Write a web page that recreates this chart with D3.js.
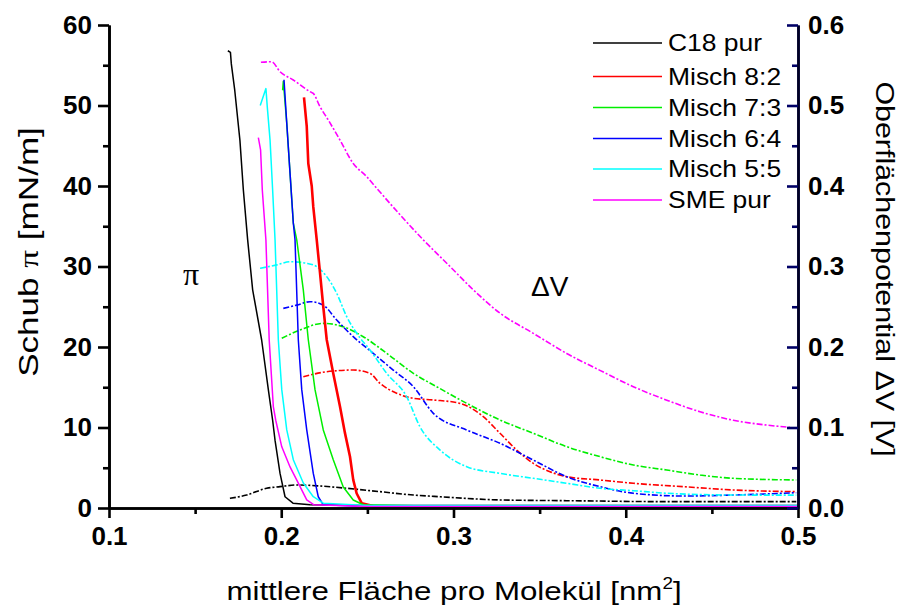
<!DOCTYPE html>
<html><head><meta charset="utf-8">
<script src="https://cdn.jsdelivr.net/npm/d3@7"></script>
<style>
html,body{margin:0;padding:0;background:#fff;}
svg{display:block;font-family:"Liberation Sans",Arial,sans-serif;}
</style></head>
<body><svg id="c" width="904" height="610"></svg>
<script>
// ---------- DATA ----------
const seriesNames = ["C18 pur","Misch 8:2","Misch 7:3","Misch 6:4","Misch 5:5","SME pur"];
const seriesColors = ["#000000","#ff0000","#00ee00","#0000ff","#00ffff","#ff00ff"];
const xTicks = [0.1,0.2,0.3,0.4,0.5];
const yLeftTicks = [0,10,20,30,40,50,60];
const yRightTicks = [0,0.1,0.2,0.3,0.4,0.5,0.6];

// isotherms: [area nm2, pi mN/m]
const piC18 = [[0.169,56.8],[0.1705,56.6],[0.171,55.2],[0.173,51.9],[0.176,45.7],[0.178,39.5],[0.1805,33.3],[0.1834,27.1],[0.1886,20.9],[0.1925,14.7],[0.195,10.9],[0.1964,8.4],[0.1993,4.3],[0.2022,1.4],[0.2068,0.6],[0.2167,0.4],[0.25,0.3],[0.3,0.3],[0.35,0.3],[0.4,0.3],[0.45,0.3],[0.5,0.3]];
const piM82 = [[0.2132,51],[0.2148,47.4],[0.2157,42.8],[0.2177,40],[0.2186,37.4],[0.2206,33.3],[0.2225,29.2],[0.2244,25],[0.2264,20.9],[0.2302,16.7],[0.2341,12.6],[0.237,9.3],[0.2399,6.4],[0.2418,3.5],[0.2438,1.8],[0.2467,0.6],[0.2534,0.25],[0.3,0.2],[0.5,0.2]];
const piM73 = [[0.2008,51.9],[0.2012,53],[0.2032,47.8],[0.2051,41.6],[0.207,35.4],[0.209,33.3],[0.2128,27.1],[0.2157,20.9],[0.2196,14.7],[0.2244,9.7],[0.2302,6.0],[0.236,2.6],[0.2418,1.0],[0.2476,0.4],[0.3,0.2],[0.5,0.2]];
const piM64 = [[0.2016,53.2],[0.2032,47.8],[0.2051,41.6],[0.207,35.4],[0.208,33.3],[0.2099,20.9],[0.2119,14.7],[0.2148,9.7],[0.2186,4.3],[0.2215,1.4],[0.2244,0.4],[0.25,0.2],[0.5,0.2]];
const piM55 = [[0.1878,50],[0.1911,52.1],[0.1919,49.8],[0.1935,45.7],[0.195,39.5],[0.1964,33.3],[0.1983,20.9],[0.2003,14.7],[0.2032,9.7],[0.207,6.0],[0.2128,3.1],[0.2186,1.4],[0.2244,0.6],[0.25,0.3],[0.5,0.3]];
const piSME = [[0.1867,46],[0.188,44.5],[0.189,39.5],[0.1911,33.3],[0.193,20.9],[0.1954,12.6],[0.1968,10.9],[0.2003,7.6],[0.2051,5.1],[0.2099,3.1],[0.2148,1.0],[0.219,0.4],[0.25,0.2],[0.5,0.2]];

// surface potential: [area nm2, dV V]
const dvC18 = [[0.1702,0.012],[0.1799,0.0161],[0.1915,0.0245],[0.1993,0.0265],[0.209,0.0286],[0.2225,0.0273],[0.238,0.0245],[0.2573,0.0203],[0.2767,0.0161],[0.2922,0.014],[0.327,0.010],[0.3657,0.0091],[0.4238,0.0079],[0.499,0.0079]];
const dvM82 = [[0.2128,0.1631],[0.2264,0.1693],[0.2418,0.1714],[0.2515,0.1673],[0.2573,0.1549],[0.267,0.1425],[0.2767,0.1363],[0.2883,0.1342],[0.3038,0.130],[0.3173,0.1134],[0.327,0.0928],[0.3367,0.072],[0.3463,0.0555],[0.356,0.0451],[0.3657,0.0389],[0.385,0.0348],[0.4044,0.0307],[0.4334,0.0265],[0.4624,0.0224],[0.499,0.0203]];
const dvM73 = [[0.2003,0.2108],[0.2109,0.2211],[0.2244,0.2294],[0.236,0.2252],[0.2476,0.2128],[0.2612,0.1922],[0.2767,0.1673],[0.2902,0.1507],[0.3077,0.130],[0.327,0.1093],[0.3463,0.0928],[0.3657,0.0762],[0.385,0.0638],[0.4044,0.0534],[0.4238,0.0472],[0.4431,0.041],[0.4624,0.0369],[0.499,0.0348]];
const dvM64 = [[0.2012,0.248],[0.209,0.252],[0.2167,0.2563],[0.2244,0.252],[0.2322,0.2335],[0.2418,0.2128],[0.2534,0.1922],[0.265,0.1714],[0.2767,0.1507],[0.2883,0.1176],[0.3077,0.0969],[0.327,0.0804],[0.3463,0.0596],[0.3657,0.0389],[0.385,0.0265],[0.4044,0.0183],[0.4334,0.0149],[0.4624,0.0161],[0.499,0.019]];
const dvM55 = [[0.1877,0.2978],[0.1974,0.302],[0.2051,0.306],[0.2148,0.304],[0.2206,0.2998],[0.2264,0.2874],[0.2322,0.2667],[0.238,0.2377],[0.2438,0.217],[0.2515,0.1963],[0.2612,0.1673],[0.2728,0.1383],[0.2805,0.101],[0.2922,0.072],[0.3077,0.0513],[0.327,0.043],[0.3463,0.0369],[0.3657,0.0307],[0.385,0.0245],[0.4044,0.0215],[0.4238,0.0183],[0.4624,0.0161],[0.499,0.016]];
const dvSME = [[0.1882,0.5537],[0.1944,0.5544],[0.1993,0.542],[0.207,0.5317],[0.2167,0.5172],[0.2186,0.515],[0.2225,0.4985],[0.2273,0.482],[0.2341,0.457],[0.2418,0.428],[0.2496,0.4116],[0.2563,0.395],[0.2825,0.333],[0.298,0.300],[0.3115,0.271],[0.327,0.242],[0.3463,0.217],[0.3657,0.192],[0.385,0.171],[0.4044,0.1507],[0.4238,0.134],[0.4431,0.1196],[0.4624,0.109],[0.4818,0.103],[0.4953,0.1002]];

const piSeries = [piC18,piM82,piM73,piM64,piM55,piSME];
const dvSeries = [dvC18,dvM82,dvM73,dvM64,dvM55,dvSME];

// ---------- LAYOUT ----------
const L=109,R=798,T=25,B=508;
const svg = d3.select("#c");
const x = d3.scaleLinear().domain([0.1,0.5]).range([L,R]);
const yL = d3.scaleLinear().domain([0,60]).range([B,T]);
const yR = d3.scaleLinear().domain([0,0.6]).range([B,T]);

svg.append("defs").append("clipPath").attr("id","clip")
  .append("rect").attr("x",L).attr("y",T-5).attr("width",R-L).attr("height",B-T+5);

const plot = svg.append("g").attr("clip-path","url(#clip)");
const linePi = d3.line().x(d=>x(d[0])).y(d=>yL(d[1]));
const lineDv = d3.line().x(d=>x(d[0])).y(d=>yR(d[1])).curve(d3.curveMonotoneX);

dvSeries.forEach((s,i)=>{
  plot.append("path").datum(s).attr("d",lineDv).attr("fill","none")
    .attr("stroke",seriesColors[i]).attr("stroke-width",1.6)
    .attr("stroke-dasharray","6,2,2,2");
});
piSeries.forEach((s,i)=>{
  plot.append("path").datum(s).attr("d",linePi).attr("fill","none")
    .attr("stroke",seriesColors[i]).attr("stroke-width",i===1?2.6:1.5)
    .attr("stroke-linejoin","round");
});

// ---------- AXES ----------
function styleAxis(g,color){
  g.select(".domain").attr("stroke",color).attr("stroke-width",2.6);
  g.selectAll(".tick line").attr("stroke",color).attr("stroke-width",2.6);
  g.selectAll(".tick text").attr("fill","#000").attr("font-size",26).attr("font-weight","bold")
    .attr("font-family","Liberation Sans, Arial, sans-serif");
}
const minorX = d3.range(0.15,0.5,0.1);
const minorYL = d3.range(5,60,10);
const minorYR = d3.range(0.05,0.6,0.1);

// bottom
const gxm = svg.append("g").attr("transform",`translate(0,${B})`)
  .call(d3.axisBottom(x).tickValues(minorX).tickSize(6).tickSizeOuter(0).tickFormat(""));
styleAxis(gxm,"#000");
const gx = svg.append("g").attr("transform",`translate(0,${B})`)
  .call(d3.axisBottom(x).tickValues(xTicks).tickSize(10).tickSizeOuter(0).tickPadding(9).tickFormat(d3.format(".1f")));
styleAxis(gx,"#000");
gx.selectAll(".tick text").attr("dy","0.71em");

// left
const gym = svg.append("g").attr("transform",`translate(${L},0)`)
  .call(d3.axisLeft(yL).tickValues(minorYL).tickSize(6).tickSizeOuter(0).tickFormat(""));
styleAxis(gym,"#000");
const gy = svg.append("g").attr("transform",`translate(${L},0)`)
  .call(d3.axisLeft(yL).tickValues(yLeftTicks).tickSize(11).tickSizeOuter(0).tickPadding(6).tickFormat(d3.format("d")));
styleAxis(gy,"#000");

// right
const gym2 = svg.append("g").attr("transform",`translate(${R},0)`)
  .call(d3.axisRight(yR).tickValues(minorYR).tickSize(-6).tickSizeOuter(0).tickFormat(""));
styleAxis(gym2,"#000066");
const gy2 = svg.append("g").attr("transform",`translate(${R},0)`)
  .call(d3.axisRight(yR).tickValues(yRightTicks).tickSize(-11).tickSizeOuter(0).tickPadding(10).tickFormat(d3.format(".1f")));
styleAxis(gy2,"#000066");
gy2.select(".domain").attr("stroke","#000022");

// ---------- TITLES ----------
function stretchedText(tx,ty,rot,sx,size,parts){
  const t = svg.append("text")
    .attr("transform",`translate(${tx},${ty}) rotate(${rot}) scale(${sx},1)`)
    .attr("text-anchor","middle").attr("font-size",size).attr("fill","#000");
  parts.forEach(p=>{
    const ts=t.append("tspan").text(p.t);
    if(p.dy) ts.attr("dy",p.dy);
    if(p.fs) ts.attr("font-size",p.fs);
    if(p.ff) ts.attr("font-family",p.ff);
  });
  return t;
}
stretchedText(454,600,0,1.18,26.5,[{t:"mittlere Fläche pro Molekül [nm"},{t:"2",dy:-11,fs:16},{t:"]",dy:11}]);
stretchedText(38,252,-90,1.3,27,[{t:"Schub "},{t:"π",ff:"Liberation Serif, serif"},{t:" [mN/m]"}]);
stretchedText(876,269,90,1.17,26,[{t:"Oberflächenpotential ΔV [V]"}]);

// annotations
svg.append("text").attr("x",183).attr("y",285).attr("font-size",32)
  .attr("font-family","Liberation Serif, serif").text("π");
svg.append("text").attr("x",531).attr("y",296).attr("font-size",28).text("ΔV");

// ---------- LEGEND ----------
const legendY = [43,76.5,107.5,138.5,169,200];
const lg = svg.append("g");
seriesNames.forEach((n,i)=>{
  lg.append("line").attr("x1",593).attr("x2",662).attr("y1",legendY[i]).attr("y2",legendY[i])
    .attr("stroke",seriesColors[i]).attr("stroke-width",1.5);
  lg.append("text").attr("transform",`translate(668,${legendY[i]}) scale(1.15,1)`)
    .attr("dy","0.36em").attr("font-size",23).text(n);
});
</script></body></html>
